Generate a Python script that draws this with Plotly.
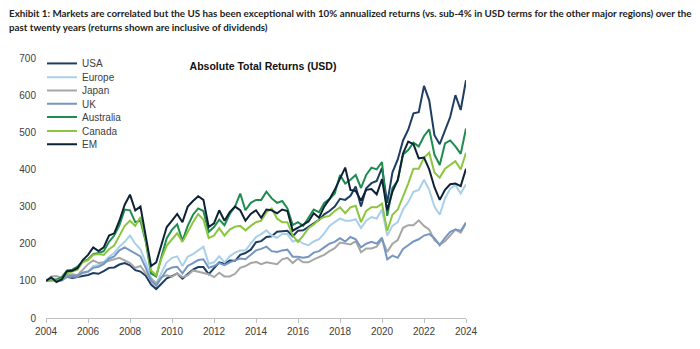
import plotly.graph_objects as go

# Quarterly dates: start of 2004, then each quarter start through 2024-01
dates = ["2004-01-01"] + [f"{y + (m // 12)}-{(m % 12) + 1:02d}-01"
                          for y in range(2004, 2024) for m in (3, 6, 9, 12)]

usa = [100,
       102, 103, 101, 111,
       108, 110, 114, 116,
       121, 119, 126, 135,
       136, 144, 148, 142,
       129, 125, 114, 90,
       78, 93, 107, 113,
       120, 106, 118, 130,
       137, 137, 118, 133,
       150, 146, 155, 154,
       170, 175, 184, 204,
       207, 218, 220, 232,
       234, 235, 220, 235,
       236, 245, 254, 264,
       279, 288, 300, 321,
       318, 329, 354, 300,
       349, 363, 369, 404,
       310, 392, 427, 478,
       507, 551, 554, 625,
       586, 492, 468, 504,
       541, 600, 560, 640]

europe = [100,
          100, 102, 101, 112,
          113, 112, 122, 124,
          140, 142, 150, 165,
          175, 192, 205, 222,
          200, 185, 150, 108,
          94, 122, 150, 162,
          166, 140, 165, 172,
          182, 192, 146, 150,
          166, 150, 166, 176,
          182, 182, 200, 218,
          226, 236, 222, 216,
          226, 226, 206, 210,
          200, 196, 206, 212,
          228, 248, 258, 268,
          262, 262, 266, 242,
          262, 272, 268, 292,
          222, 248, 258, 292,
          312, 340, 345, 372,
          345, 300, 278, 322,
          348, 358, 335, 360]

japan = [100,
         112, 113, 108, 116,
         118, 115, 130, 145,
         155, 148, 150, 154,
         158, 162, 155, 148,
         135, 140, 120, 105,
         92, 110, 115, 111,
         120, 110, 115, 128,
         125, 123, 118, 110,
         122, 112, 112, 119,
         135, 140, 148, 151,
         145, 150, 148, 145,
         158, 162, 148, 160,
         150, 150, 158, 164,
         170, 180, 188, 203,
         200, 198, 207, 177,
         187, 187, 192, 212,
         178, 200, 210, 243,
         250, 250, 263, 248,
         238, 210, 198, 207,
         222, 238, 230, 255]

uk = [100,
      100, 102, 103, 112,
      114, 113, 122, 125,
      135, 138, 145, 160,
      166, 182, 190, 182,
      172, 166, 135, 100,
      87, 110, 130, 136,
      138, 120, 140, 148,
      156, 158, 135, 140,
      148, 142, 150, 155,
      160, 158, 170, 182,
      186, 192, 180, 178,
      182, 184, 165, 165,
      162, 165, 176, 180,
      190, 200, 205, 215,
      206, 218, 212, 190,
      200, 205, 200, 216,
      158, 168, 162, 186,
      196, 206, 212, 222,
      226, 215, 196, 216,
      232, 238, 235, 257]

australia = [100,
             105, 103, 110, 128,
             130, 138, 152, 158,
             172, 175, 180, 205,
             222, 250, 292, 290,
             258, 262, 205, 120,
             112, 165, 215, 238,
             252, 208, 248, 278,
             295, 288, 232, 245,
             265, 250, 280, 300,
             335, 290, 310, 318,
             318, 340, 322, 310,
             315, 295, 250, 258,
             248, 270, 292, 285,
             310, 320, 335, 385,
             362, 372, 385, 350,
             385, 405, 400, 420,
             275, 350, 370, 440,
             452, 472, 462, 490,
             508, 440, 412, 470,
             478, 462, 442, 510]

canada = [100,
          104, 100, 105, 120,
          125, 130, 150, 156,
          170, 172, 170, 185,
          195, 222, 248, 262,
          248, 272, 210, 128,
          115, 160, 195, 212,
          228, 205, 232, 258,
          280, 265, 215, 222,
          242, 222, 238, 246,
          248, 236, 248, 258,
          262, 285, 295, 268,
          258, 258, 222, 205,
          222, 242, 252, 265,
          272, 275, 288, 298,
          282, 298, 302, 258,
          288, 298, 298, 308,
          235, 278, 292, 325,
          362, 402, 402, 432,
          445, 392, 378, 402,
          412, 422, 400, 445]

em = [100,
      109, 97, 104, 126,
      127, 134, 156, 170,
      190, 180, 190, 222,
      228, 262, 305, 332,
      290, 300, 215, 140,
      150, 200, 245, 262,
      280, 258, 300, 315,
      328, 318, 245, 255,
      290, 262, 285, 300,
      290, 262, 280, 290,
      270, 292, 290, 282,
      292, 288, 235, 243,
      252, 260, 282, 270,
      300, 320, 345, 375,
      405, 345, 342, 316,
      345, 347, 333, 374,
      290, 340, 372, 443,
      475, 468, 430, 432,
      400, 352, 318, 345,
      360, 362, 355, 402]

series_names = ["USA", "Europe", "Japan", "UK", "Australia", "Canada", "EM"]
series_values = [usa, europe, japan, uk, australia, canada, em]
colors = ["#1f3d63", "#a9cfea", "#a6a6a6", "#7596c3", "#1e8c4e", "#8cc540", "#0e2236"]

for v in series_values:
    assert len(v) == len(dates), len(v)

# layout geometry (pixels)
W, H = 700, 349
L, R, T, B = 46, 234, 58, 27
pw, ph = W - L - R, H - T - B

def px_x(px):
    return (px - L) / pw

def px_y(py):
    return (H - B - py) / ph

fig = go.Figure()
legend_ids = ["legend"] + [f"legend{i}" for i in range(2, 8)]
for name, vals, col, lg in zip(series_names, series_values, colors, legend_ids):
    fig.add_trace(go.Scatter(x=dates, y=vals, mode="lines", name=name,
                             line=dict(color=col, width=2), legend=lg))

legend_y = [63.5, 77.5, 91, 104.5, 118, 132, 145.5]
layout_legends = {}
for lg, py in zip(legend_ids, legend_y):
    layout_legends[lg] = dict(
        x=px_x(42), y=px_y(py), xanchor="left", yanchor="middle",
        bgcolor="rgba(0,0,0,0)", borderwidth=0,
        font=dict(family="Liberation Sans, Arial, sans-serif", size=10, color="#404040"),
    )

header_font = dict(family="Lato, Liberation Sans, sans-serif", size=9.8, color="#222", weight="bold")

fig.update_layout(
    width=W, height=H,
    margin=dict(l=L, r=R, t=T, b=B, pad=0),
    paper_bgcolor="white", plot_bgcolor="white",
    showlegend=True,
    title=dict(text="<b>Absolute Total Returns (USD)</b>",
               x=263 / W, xref="container", xanchor="center",
               y=1 - 66 / H, yref="container", yanchor="middle",
               font=dict(family="Liberation Sans, Arial, sans-serif", size=10.5, color="#111")),
    xaxis=dict(type="date", range=["2004-01-01", "2024-01-01"],
               tick0="2004-01-01", dtick="M24", tickformat="%Y",
               showgrid=False, zeroline=False,
               showline=True, linecolor="#bfbfbf", linewidth=1,
               ticks="outside", ticklen=4, tickcolor="#bfbfbf",
               tickfont=dict(family="Liberation Sans, Arial, sans-serif", size=10, color="#404040")),
    yaxis=dict(range=[0, 700], dtick=100, showgrid=False, zeroline=False,
               showline=False, ticks="", ticklabelstandoff=9,
               tickfont=dict(family="Liberation Sans, Arial, sans-serif", size=10, color="#404040")),
    annotations=[
        dict(text="Exhibit 1: Markets are correlated but the US has been exceptional with 10% annualized returns (vs. sub-4% in USD terms for the other major regions) over the",
             xref="paper", yref="paper", x=px_x(7), y=px_y(12), xanchor="left", yanchor="middle",
             showarrow=False, font=header_font),
        dict(text="past twenty years (returns shown are inclusive of dividends)",
             xref="paper", yref="paper", x=px_x(7), y=px_y(27), xanchor="left", yanchor="middle",
             showarrow=False, font=header_font),
    ],
    **layout_legends,
)

fig.write_html("out.html")
